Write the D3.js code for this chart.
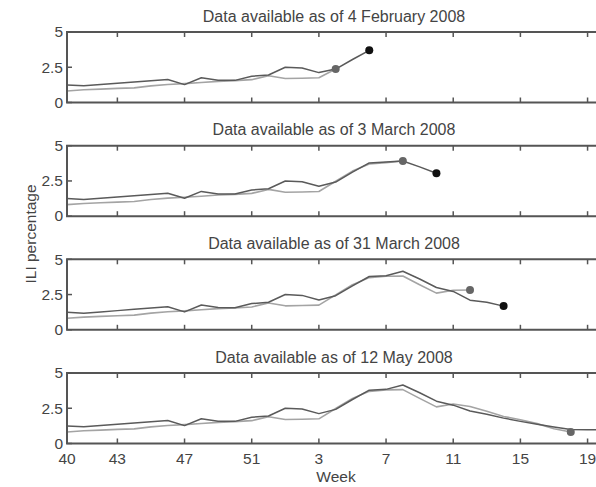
<!DOCTYPE html>
<html>
<head>
<meta charset="utf-8">
<script src="https://cdn.jsdelivr.net/npm/d3@7"></script>
<style>
  html, body { margin: 0; padding: 0; background: #fff; }
  svg { display: block; }
  text { font-family: "Liberation Sans", Arial, Helvetica, sans-serif; fill: #444; }
</style>
</head>
<body>
<svg id="chart" width="596" height="487"></svg>
<script>
// Influenza season 2007-08: week numbers (week 40 of 2007 through week 20 of 2008)
const weeks = [40, 41, 42, 43, 44, 45, 46, 47, 48, 49, 50, 51, 52,
               1, 2, 3, 4, 5, 6, 7, 8, 9, 10, 11, 12, 13, 14, 15, 16, 17, 18, 19, 20];

// Model-estimated ILI percentage (final estimates), one value per week
const modelILI = [1.25, 1.18, 1.27, 1.36, 1.45, 1.54, 1.63, 1.27, 1.76, 1.58, 1.57, 1.86, 1.95,
                  2.5, 2.44, 2.12, 2.42, 3.12, 3.78, 3.84, 4.15, 3.6, 3.0, 2.72, 2.3, 2.08, 1.8,
                  1.57, 1.36, 1.17, 1.0, 0.98, 0.98];

// CDC-reported ILI percentage, one value per week
const cdcILI = [0.82, 0.9, 0.95, 1.0, 1.04, 1.18, 1.28, 1.34, 1.42, 1.5, 1.55, 1.62, 1.9,
                1.7, 1.72, 1.75, 2.48, 3.2, 3.7, 3.8, 3.82, 3.2, 2.6, 2.8, 2.63, 2.28, 1.92,
                1.69, 1.41, 1.05, 0.82];

// Snapshot panels
const panelTitles = [
  "Data available as of 4 February 2008",
  "Data available as of 3 March 2008",
  "Data available as of 31 March 2008",
  "Data available as of 12 May 2008"
];
// Index (into weeks) of the latest value available at each snapshot
const modelThrough = [18, 22, 26, 32];
const cdcThrough = [16, 20, 24, 30];
// Preliminary values as they stood at each snapshot: [week index, value]
const modelPreliminary = [
  [[16, 2.37], [17, 3.05], [18, 3.7]],
  [[20, 3.92], [21, 3.5], [22, 3.05]],
  [[24, 2.1], [25, 1.95], [26, 1.68]],
  []
];
const cdcPreliminary = [
  [[16, 2.37]],
  [[20, 3.92]],
  [[24, 2.82]],
  [[30, 0.82]]
];

// Axis ticks
const xTickWeeks = [40, 43, 47, 51, 3, 7, 11, 15, 19];
const yTicks = [0, 2.5, 5];

const svg = d3.select("#chart");
const left = 67, right = 601;
const panelTops = [32, 145.7, 259.3, 373];
const panelH = 70.5;

const x = d3.scaleLinear().domain([0, 31.8]).range([left, right]);
const tickIndex = w => weeks.indexOf(w);

function seriesFor(base, through, prelim) {
  const vals = base.slice(0, through + 1).map((v, i) => ({ i, v }));
  prelim.forEach(([i, v]) => { if (vals[i]) vals[i].v = v; });
  return vals;
}

panelTitles.forEach((title, p) => {
  const top = panelTops[p];
  const y = d3.scaleLinear().domain([0, 5]).range([top + panelH, top]);
  const g = svg.append("g");

  const clipId = "clip" + p;
  g.append("clipPath").attr("id", clipId)
    .append("rect").attr("x", left).attr("y", top - 6)
    .attr("width", right - left).attr("height", panelH + 12);

  // Title
  g.append("text")
    .attr("x", (left + right) / 2).attr("y", top - 10.5)
    .attr("text-anchor", "middle")
    .style("font-size", "16px")
    .text(title);

  // Lines
  const line = d3.line().x(d => x(d.i)).y(d => y(d.v));
  const plot = g.append("g").attr("clip-path", `url(#${clipId})`);
  const cdc = seriesFor(cdcILI, cdcThrough[p], cdcPreliminary[p]);
  const model = seriesFor(modelILI, modelThrough[p], modelPreliminary[p]);

  plot.append("path").datum(cdc)
    .attr("fill", "none").attr("stroke", "#a4a4a4").attr("stroke-width", 1.6)
    .attr("stroke-linejoin", "round").attr("d", line);
  plot.append("path").datum(model)
    .attr("fill", "none").attr("stroke", "#5a5a5a").attr("stroke-width", 1.5)
    .attr("stroke-linejoin", "round").attr("d", line);

  // Latest available points
  const lastCdc = cdc[cdc.length - 1];
  const lastModel = model[model.length - 1];
  plot.append("circle").attr("cx", x(lastCdc.i)).attr("cy", y(lastCdc.v))
    .attr("r", 4).attr("fill", "#666");
  plot.append("circle").attr("cx", x(lastModel.i)).attr("cy", y(lastModel.v))
    .attr("r", 4).attr("fill", "#111");

  // Frame
  g.append("path")
    .attr("d", `M${right + 2},${top}H${left}V${top + panelH}H${right + 2}`)
    .attr("fill", "none").attr("stroke", "#555").attr("stroke-width", 2);

  // Inward ticks on top and bottom
  const xt = g.append("g").attr("stroke", "#555").attr("stroke-width", 1.5);
  xTickWeeks.forEach(w => {
    const xx = x(tickIndex(w));
    if (w === 40) return;
    xt.append("line").attr("x1", xx).attr("x2", xx).attr("y1", top).attr("y2", top + 5);
    xt.append("line").attr("x1", xx).attr("x2", xx).attr("y1", top + panelH).attr("y2", top + panelH - 5);
  });
  yTicks.forEach(t => {
    xt.append("line").attr("x1", left).attr("x2", left + 5).attr("y1", y(t)).attr("y2", y(t));
  });

  // Y labels
  g.selectAll("text.ylab").data(yTicks).enter().append("text")
    .attr("class", "ylab")
    .attr("x", left - 4).attr("y", d => y(d))
    .attr("dy", "0.34em")
    .attr("text-anchor", "end")
    .style("font-size", "15.5px")
    .text(d => d);

  // X labels on the bottom panel only
  if (p === panelTitles.length - 1) {
    g.selectAll("text.xlab").data(xTickWeeks).enter().append("text")
      .attr("class", "xlab")
      .attr("x", d => x(tickIndex(d))).attr("y", top + panelH + 20.5)
      .attr("text-anchor", "middle")
      .style("font-size", "15.5px")
      .text(d => d);
  }
});

// Axis titles
svg.append("text")
  .attr("transform", "translate(36,234) rotate(-90)")
  .attr("text-anchor", "middle")
  .style("font-size", "15.5px")
  .text("ILI percentage");

svg.append("text")
  .attr("x", 336).attr("y", 482)
  .attr("text-anchor", "middle")
  .style("font-size", "15.5px")
  .text("Week");
</script>
</body>
</html>
